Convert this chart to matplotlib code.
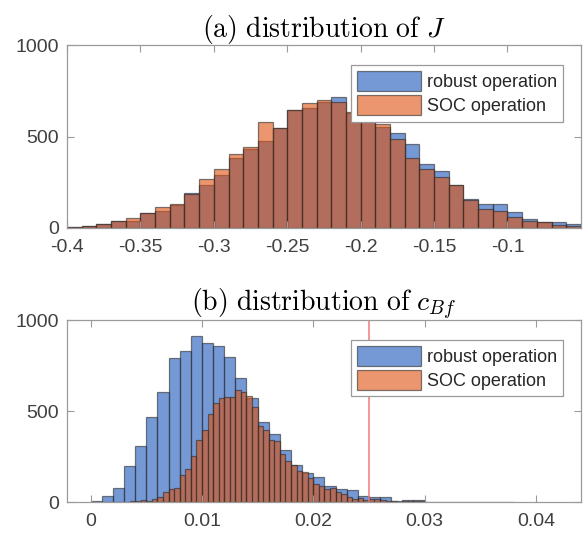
import numpy as np
import matplotlib
matplotlib.use("Agg")
import matplotlib.pyplot as plt

plt.rcParams['font.family'] = ['Liberation Sans', 'DejaVu Sans']
plt.rcParams['mathtext.fontset'] = 'cm'
plt.rcParams['axes.unicode_minus'] = False

# (a) distribution of J, bins of 0.01 from -0.40 to -0.05
j_edges = np.round(np.linspace(-0.40, -0.05, 36), 3)
j_robust = [7, 13, 20, 38, 38, 84, 93, 126, 192, 235, 292, 385, 429, 474, 546,
            644, 657, 690, 717, 626, 600, 553, 520, 458, 352, 310, 237, 160,
            133, 130, 86, 51, 33, 31, 24]
j_soc = [7, 13, 20, 38, 55, 84, 115, 133, 188, 266, 321, 407, 440, 580, 546,
         644, 684, 699, 688, 635, 590, 567, 484, 385, 325, 276, 237, 155,
         106, 91, 60, 36, 33, 18, 13]

# (b) distribution of c_Bf
c_robust_edges = np.round(np.linspace(0.0, 0.038, 39), 4)
c_robust = [3, 33, 75, 199, 309, 466, 606, 790, 831, 913, 876, 857, 795, 680,
            569, 437, 376, 284, 206, 162, 136, 86, 70, 64, 33, 28, 25, 4, 12,
            12, 2, 2, 2, 1, 1, 2, 1, 1]
c_soc_edges = np.round(np.linspace(0.0035, 0.030, 54), 4)
c_soc = [4, 7, 13, 5, 16, 27, 53, 73, 79, 148, 183, 254, 342, 393, 481, 543,
         570, 576, 577, 615, 604, 583, 523, 418, 394, 343, 334, 262, 224, 206,
         171, 165, 134, 101, 86, 73, 79, 55, 42, 28, 18, 24, 13, 15, 15, 10,
         8, 3, 2, 6, 8, 8, 6]
c_limit = 0.025

blue = (25/255, 85/255, 185/255)
orange = (222/255, 80/255, 13/255)
edge = '#2b2b2b'
axcol = '#9a9a9a'
txtcol = '#404040'

fig = plt.figure(figsize=(5.84, 5.39), dpi=100)
ax1 = fig.add_axes([0.1147, 0.577, 0.880, 0.3395])
ax2 = fig.add_axes([0.1147, 0.0686, 0.880, 0.3377])


def draw_hist(ax, edges, counts, color, label):
    ax.hist(edges[:-1], bins=edges, weights=counts, color=color, alpha=0.6,
            edgecolor=edge, linewidth=0.9, label=label)


draw_hist(ax1, j_edges, j_robust, blue, 'robust operation')
draw_hist(ax1, j_edges, j_soc, orange, 'SOC operation')
draw_hist(ax2, c_robust_edges, c_robust, blue, 'robust operation')
draw_hist(ax2, c_soc_edges, c_soc, orange, 'SOC operation')
ax2.axvline(c_limit, color='#f07a7a', linewidth=1.1, zorder=1)

ax1.set_xlim(-0.4, -0.05)
ax1.set_xticks([-0.4, -0.35, -0.3, -0.25, -0.2, -0.15, -0.1])
ax1.set_xticklabels(['-0.4', '-0.35', '-0.3', '-0.25', '-0.2', '-0.15', '-0.1'])
ax2.set_xlim(-0.00213, 0.04405)
ax2.set_xticks([0, 0.01, 0.02, 0.03, 0.04])
ax2.set_xticklabels(['0', '0.01', '0.02', '0.03', '0.04'])

ax1.set_title(r'$\mathrm{(a)\ distribution\ of\ }J$', fontsize=20, pad=6)
ax2.set_title(r'$\mathrm{(b)\ distribution\ of\ }c_{Bf}$', fontsize=20, pad=6)

for ax in (ax1, ax2):
    ax.set_ylim(0, 1000)
    ax.set_yticks([0, 500, 1000])
    ax.tick_params(direction='in', length=5, width=0.8, color=axcol,
                   labelsize=14, labelcolor=txtcol, top=True, right=True, pad=6)
    ax.tick_params(axis='x', pad=8)
    for s in ax.spines.values():
        s.set_color(axcol)
        s.set_linewidth(0.9)
    leg = ax.legend(loc='upper right', bbox_to_anchor=(0.966, 0.892),
                    fontsize=13, handlelength=3.5, handleheight=1.35,
                    handletextpad=0.35, labelspacing=0.2, borderpad=0.35,
                    borderaxespad=0, fancybox=False, framealpha=1,
                    edgecolor='#9a9a9a')
    leg.get_frame().set_linewidth(0.9)
    for t in leg.get_texts():
        t.set_color('#262626')

fig.savefig('out.png', dpi=100)
